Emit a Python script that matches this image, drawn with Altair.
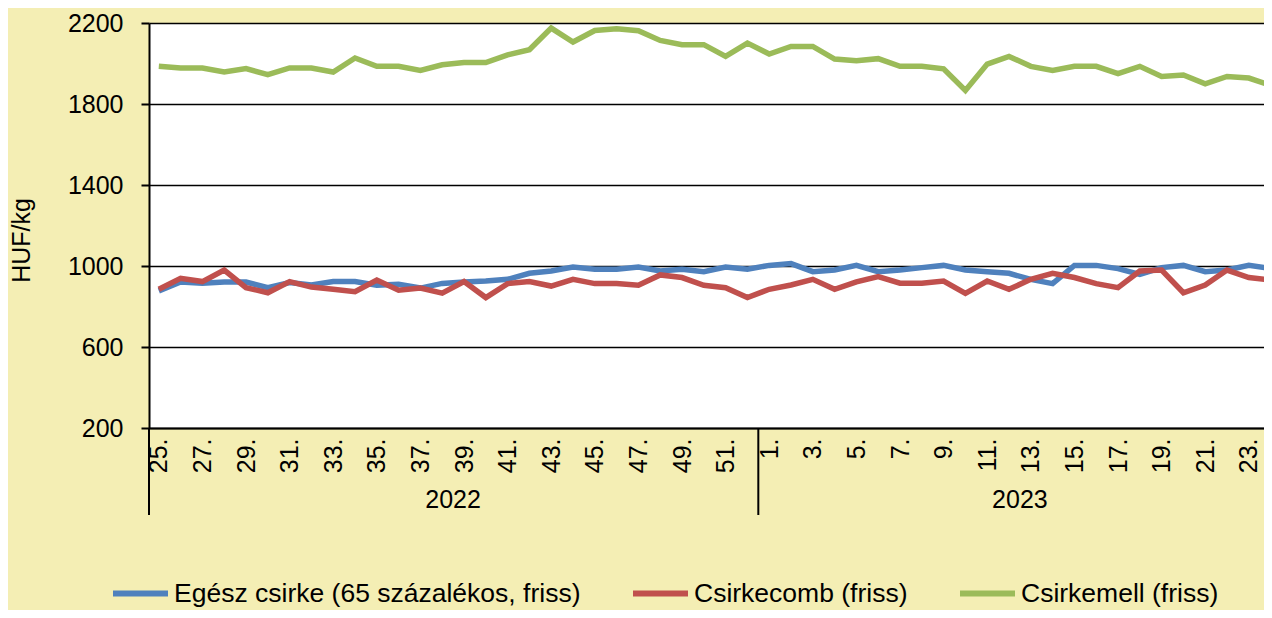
import json
import altair as alt
import pandas as pd

# ---- data ----
years = [2022] * 28 + [2023] * 24
weeks = list(range(25, 53)) + list(range(1, 25))

series_names = ["Egész csirke (65 százalékos, friss)", "Csirkecomb (friss)", "Csirkemell (friss)"]
series_colors = ["#4F81BD", "#C0504D", "#9BBB59"]

egesz = [877, 921, 915, 921, 921, 893, 918, 906, 923, 923, 905, 910, 891, 914, 921, 926, 934, 964,
         975, 995, 984, 984, 995, 975, 984, 972, 995, 984, 1003, 1012, 972, 980, 1003, 972, 980, 992,
         1003, 980, 972, 964, 934, 913, 1003, 1003, 987, 959, 992, 1003, 972, 980, 1003, 988]
comb = [885, 939, 923, 980, 893, 868, 923, 896, 885, 873, 931, 880, 891, 866, 923, 844, 913, 923,
        901, 934, 913, 913, 905, 956, 943, 905, 893, 844, 885, 906, 934, 885, 922, 948, 915, 915,
        926, 865, 926, 885, 934, 964, 943, 913, 893, 975, 980, 868, 906, 980, 943, 931]
mell = [1986, 1978, 1978, 1958, 1975, 1945, 1978, 1978, 1958, 2027, 1986, 1986, 1966, 1994, 2005,
        2005, 2043, 2068, 2175, 2106, 2163, 2172, 2162, 2114, 2093, 2093, 2035, 2101, 2047, 2084,
        2084, 2022, 2014, 2024, 1986, 1986, 1974, 1867, 1997, 2035, 1986, 1966, 1986, 1986, 1950,
        1986, 1936, 1943, 1900, 1936, 1928, 1893]

y_ticks = [200, 600, 1000, 1400, 1800, 2200]

# ---- build tables ----
week_labels = [f"{w}." for w in weeks]
rows = []
for name, vals in zip(series_names, [egesz, comb, mell]):
    for i, v in enumerate(vals):
        rows.append({"series": name, "idx": i, "year": years[i], "week": week_labels[i], "value": v})
df = pd.DataFrame(rows)

year_list = sorted(set(years))
year_df = pd.DataFrame({
    "year": [str(y) for y in year_list],
    "center": [sum(i for i, yy in enumerate(years) if yy == y) / years.count(y) for y in year_list],
})
first_idx_2023 = years.index(2023)
sep_df = pd.DataFrame({"pos": [-0.45, first_idx_2023 - 0.5]})

FONT = "Liberation Sans"
PLOT_W, PLOT_H = 1115, 405
STEP = 21.8
x_domain = [-0.45, -0.45 + PLOT_W / STEP]

x_scale = alt.Scale(domain=x_domain, nice=False, zero=False)
label_expr = json.dumps(week_labels) + "[datum.value]"

x_axis = alt.Axis(
    values=list(range(0, len(weeks), 2)),
    labelExpr=label_expr,
    labelAngle=270,
    labelAlign="right",
    labelBaseline="middle",
    labelFontSize=25,
    labelFont=FONT,
    labelColor="black",
    labelPadding=10,
    labelOverlap=False,
    labelFlush=False,
    labelBound=False,
    ticks=False,
    grid=False,
    domainColor="black",
    domainWidth=2,
    title=None,
)

y_axis = alt.Axis(
    values=y_ticks,
    format="d",
    labelFontSize=25,
    labelFont=FONT,
    labelColor="black",
    labelPadding=18,
    tickColor="black",
    tickWidth=2,
    tickSize=8,
    domainColor="black",
    domainWidth=2,
    grid=True,
    gridColor="black",
    gridWidth=1.6,
    gridOpacity=1,
    title="HUF/kg",
    titleFont=FONT,
    titleFontSize=25,
    titleFontWeight="normal",
    titleColor="black",
    titleAngle=270,
    titleAlign="center",
    titleBaseline="middle",
    titleX=-128,
    titleY=217,
)

lines = alt.Chart(df).mark_line(strokeWidth=5.5, clip=True).encode(
    x=alt.X("idx:Q", scale=x_scale, axis=x_axis),
    y=alt.Y("value:Q", scale=alt.Scale(domain=[200, 2200], nice=False, zero=False), axis=y_axis),
    color=alt.Color(
        "series:N",
        scale=alt.Scale(domain=series_names, range=series_colors),
        sort=series_names,
        legend=alt.Legend(
            title=None,
            orient="none",
            direction="horizontal",
            legendX=-39,
            legendY=540,
            symbolType="stroke",
            symbolSize=3025,
            symbolStrokeWidth=6,
            labelFontSize=26.5,
            labelFont=FONT,
            labelColor="black",
            labelLimit=1000,
            labelOffset=3,
            columnPadding=40,
            padding=0,
        ),
    ),
    order=alt.Order("idx:Q"),
)

seps = alt.Chart(sep_df).mark_rule(color="black", strokeWidth=2).encode(
    x=alt.X("pos:Q", scale=x_scale),
    y=alt.value(PLOT_H),
    y2=alt.value(PLOT_H + 87),
)

year_text = alt.Chart(year_df).mark_text(
    font=FONT, fontSize=25, color="black", baseline="middle", align="center"
).encode(
    x=alt.X("center:Q", scale=x_scale),
    y=alt.value(PLOT_H + 72),
    text="year:N",
)

chart = alt.layer(lines, seps, year_text).properties(
    width=PLOT_W,
    height=PLOT_H,
    autosize=alt.AutoSizeParams(type="none"),
    padding={"left": 141, "top": 15, "right": 0, "bottom": 182},
).configure(
    background="#F4EEB4",
).configure_view(
    fill="white",
    strokeWidth=0,
)

chart.save("out.html", embed_options={"renderer": "svg", "actions": False})
